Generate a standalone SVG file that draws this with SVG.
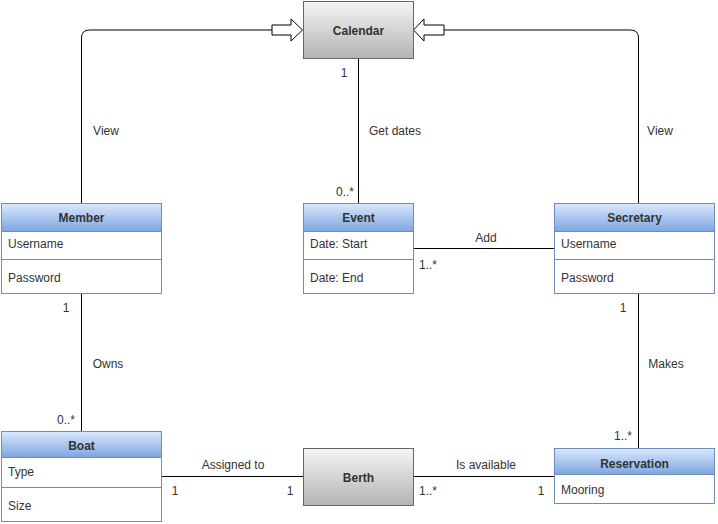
<svg xmlns="http://www.w3.org/2000/svg" width="718" height="524" viewBox="0 0 718 524">
<defs>
<linearGradient id="blue" x1="0" y1="0" x2="0" y2="1"><stop offset="0" stop-color="#dae8fc"/><stop offset="1" stop-color="#7ea6e0"/></linearGradient>
<linearGradient id="gray" x1="0" y1="0" x2="0" y2="1"><stop offset="0" stop-color="#f5f5f5"/><stop offset="1" stop-color="#b3b3b3"/></linearGradient>
<style>
text{font-family:"Liberation Sans",Arial,sans-serif;font-size:12px;fill:#333}
.b{font-weight:bold;text-anchor:middle}
.c{text-anchor:middle}
.hdr{fill:url(#blue);stroke:#6c8ebf}
.body{fill:#fff;stroke:#6c8ebf}
.sep{stroke:#6c8ebf}
.grey{fill:url(#gray);stroke:#666}
.ln{fill:none;stroke:#000;stroke-width:1}
.arr{fill:#fff;stroke:#000;stroke-width:1}
</style>
</defs>
<rect width="718" height="524" fill="#fff"/>
<g id="connectors">
<path class="ln" d="M81.5,203 V38 Q81.5,30 89.5,30 H272"/>
<path class="arr" d="M272,25 H291 V19 L302.5,30 L291,41 V35 H272 Z"/>
<path class="ln" d="M638.5,203 V38 Q638.5,30 630.5,30 H444"/>
<path class="arr" d="M444,25 H424 V19 L413.5,30 L424,41 V35 H444 Z"/>
<path class="ln" d="M358.5,58 V203"/>
<path class="ln" d="M413,248.5 H554"/>
<path class="ln" d="M81.5,293 V431"/>
<path class="ln" d="M638.5,293 V448"/>
<path class="ln" d="M161,476.5 H303"/>
<path class="ln" d="M413,476.5 H554"/>
<text x="106" y="135" class="c">View</text>
<text x="395" y="135" class="c">Get dates</text>
<text x="660" y="135" class="c">View</text>
<text x="344" y="77" class="c">1</text>
<text x="345" y="196" class="c">0..*</text>
<text x="486" y="242" class="c">Add</text>
<text x="428" y="269" class="c">1..*</text>
<text x="66" y="312" class="c">1</text>
<text x="108" y="368" class="c">Owns</text>
<text x="66" y="424" class="c">0..*</text>
<text x="623" y="312" class="c">1</text>
<text x="666" y="368" class="c">Makes</text>
<text x="623" y="440" class="c">1..*</text>
<text x="233" y="469" class="c">Assigned to</text>
<text x="175" y="495" class="c">1</text>
<text x="290" y="495" class="c">1</text>
<text x="486" y="469" class="c">Is available</text>
<text x="428" y="495" class="c">1..*</text>
<text x="541" y="495" class="c">1</text>
</g>
<g id="calendar">
<rect class="grey" x="303.5" y="1.5" width="110" height="57"/>
<text x="358.5" y="34.5" class="b">Calendar</text>
</g>
<g id="member">
<rect class="body" x="1.5" y="203.5" width="160" height="90"/>
<rect class="hdr" x="1.5" y="203.5" width="160" height="28"/>
<line class="sep" x1="1.5" y1="259.5" x2="161.5" y2="259.5"/>
<text x="81.5" y="222" class="b">Member</text>
<text x="8" y="248">Username</text>
<text x="8" y="282">Password</text>
</g>
<g id="event">
<rect class="body" x="303.5" y="203.5" width="110" height="90"/>
<rect class="hdr" x="303.5" y="203.5" width="110" height="28"/>
<line class="sep" x1="303.5" y1="259.5" x2="413.5" y2="259.5"/>
<text x="358.5" y="222" class="b">Event</text>
<text x="310" y="248">Date: Start</text>
<text x="310" y="282">Date: End</text>
</g>
<g id="secretary">
<rect class="body" x="554.5" y="203.5" width="160" height="90"/>
<rect class="hdr" x="554.5" y="203.5" width="160" height="28"/>
<line class="sep" x1="554.5" y1="259.5" x2="714.5" y2="259.5"/>
<text x="634.5" y="222" class="b">Secretary</text>
<text x="561" y="248">Username</text>
<text x="561" y="282">Password</text>
</g>
<g id="boat">
<rect class="body" x="1.5" y="431.5" width="160" height="90"/>
<rect class="hdr" x="1.5" y="431.5" width="160" height="26"/>
<line class="sep" x1="1.5" y1="487.5" x2="161.5" y2="487.5"/>
<text x="81.5" y="450" class="b">Boat</text>
<text x="8" y="476">Type</text>
<text x="8" y="510">Size</text>
</g>
<g id="berth">
<rect class="grey" x="303.5" y="448.5" width="110" height="57"/>
<text x="358.5" y="481.5" class="b">Berth</text>
</g>
<g id="reservation">
<rect class="body" x="554.5" y="448.5" width="160" height="55"/>
<rect class="hdr" x="554.5" y="448.5" width="160" height="26"/>
<text x="634.5" y="467.5" class="b">Reservation</text>
<text x="561" y="494">Mooring</text>
</g>
</svg>
